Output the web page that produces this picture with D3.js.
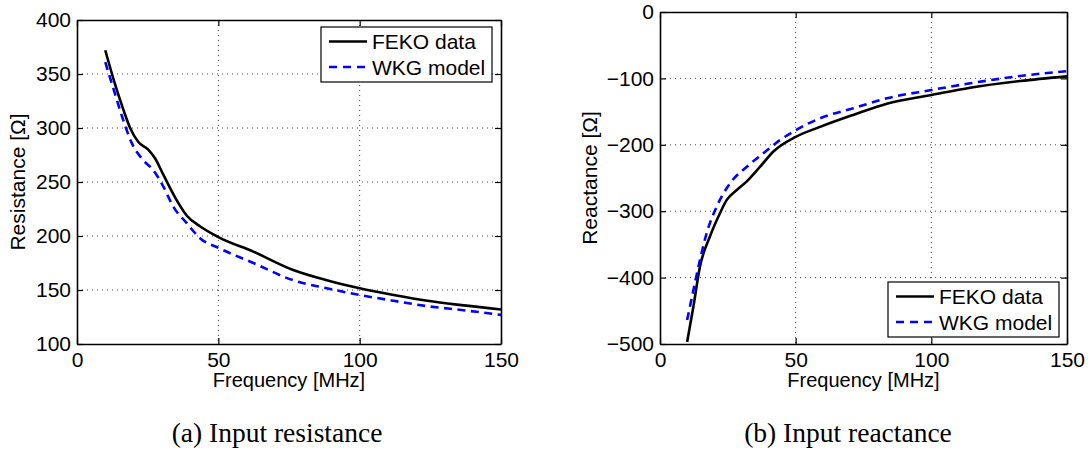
<!DOCTYPE html>
<html>
<head>
<meta charset="utf-8">
<script src="https://cdn.jsdelivr.net/npm/d3@7"></script>
<style>
  body { margin: 0; background: #fff; }
  svg text { font-family: "Liberation Sans", Arial, sans-serif; fill: #000; }
  .caption { font-family: "Liberation Serif", "Times New Roman", serif; }
</style>
</head>
<body>
<svg id="chart" width="1088" height="452"></svg>
<script>
// resistance panel
const resFekoFreq = [10, 13.4, 16.4, 18.8, 21.7, 25.2, 27.6, 30.5, 35.3, 38.8, 43.5, 50, 62.4, 76.5, 88.4, 100, 112, 124, 136, 150];
const resFeko = [372, 341, 317, 300, 287, 280, 272, 257, 233, 219, 209, 199, 185.5, 168.5, 159, 151.6, 145.4, 140, 136, 132];
const resWkgFreq = [10, 13.4, 16.4, 19.4, 23.5, 27, 30.5, 34.1, 38.8, 43.5, 50, 62.4, 76.5, 88.4, 100, 112, 124, 136, 150];
const resWkg = [361, 332, 307, 286, 270, 261, 246, 227, 212, 198, 189, 175, 159, 151.6, 145.4, 140, 135, 131.5, 127];

// reactance panel
const reaFekoFreq = [10, 12.3, 14.7, 18.4, 22.1, 24.6, 28.3, 32, 36.9, 41.8, 50, 59, 71.2, 83.6, 100, 114.3, 132.7, 150];
const reaFeko = [-497, -444, -384, -338, -303, -283, -268, -255, -233, -210, -188, -173, -155, -138, -125, -114, -104, -97];
const reaWkgFreq = [10, 12.3, 14.7, 17.2, 20.9, 25.8, 32, 38, 44.2, 50, 59, 71.2, 83.6, 100, 114.3, 132.7, 150];
const reaWkg = [-464, -419, -374, -333, -293, -258, -233, -213, -193, -178, -160, -145, -130, -117.5, -107.4, -96.4, -89];

const freqTicks = [0, 50, 100, 150];
const resTicks = [100, 150, 200, 250, 300, 350, 400];
const reaTicks = [-500, -400, -300, -200, -100, 0];
const seriesNames = ["FEKO data", "WKG model"];

const svg = d3.select("#chart");

function zip(xs, ys) {
  return xs.map(function (x, i) { return {f: x, v: ys[i]}; });
}

function drawPanel(p) {
  const x = d3.scaleLinear().domain([0, 150]).range([p.left, p.right]);
  const y = d3.scaleLinear().domain(p.yDomain).range([p.bottom, p.top]);
  const g = svg.append("g");

  // dotted grid
  g.selectAll(".gx").data(freqTicks.slice(1, -1)).enter().append("line")
    .attr("x1", d => x(d)).attr("x2", d => x(d))
    .attr("y1", p.top).attr("y2", p.bottom)
    .style("stroke", "#444").style("stroke-width", 1).style("stroke-dasharray", "1,4");
  g.selectAll(".gy").data(p.yTicks.slice(1, -1)).enter().append("line")
    .attr("y1", d => y(d)).attr("y2", d => y(d))
    .attr("x1", p.left).attr("x2", p.right)
    .style("stroke", "#444").style("stroke-width", 1).style("stroke-dasharray", "1,4");

  const line = d3.line()
    .x(d => x(d.f))
    .y(d => y(d.v))
    .curve(d3.curveMonotoneX);

  g.append("path").datum(zip(p.fekoFreq, p.feko))
    .attr("d", line)
    .style("fill", "none").style("stroke", "#000").style("stroke-width", 2.6);
  g.append("path").datum(zip(p.wkgFreq, p.wkg))
    .attr("d", line)
    .style("fill", "none").style("stroke", "#0000ff").style("stroke-width", 2.6)
    .style("stroke-dasharray", "8,5.5");

  // axes: box with inward ticks on all sides
  const bottomAx = d3.axisBottom(x).tickValues(freqTicks).tickSizeInner(-6).tickSizeOuter(0).tickPadding(8).tickFormat(d3.format("d"));
  const topAx = d3.axisTop(x).tickValues(freqTicks).tickSizeInner(-6).tickSizeOuter(0).tickFormat("");
  const fmt = d => (d < 0 ? "\u2212" + Math.abs(d) : String(d));
  const leftAx = d3.axisLeft(y).tickValues(p.yTicks).tickSizeInner(-6).tickSizeOuter(0).tickPadding(6).tickFormat(fmt);
  const rightAx = d3.axisRight(y).tickValues(p.yTicks).tickSizeInner(-6).tickSizeOuter(0).tickFormat("");

  const axes = [
    g.append("g").attr("transform", "translate(0," + p.bottom + ")").call(bottomAx),
    g.append("g").attr("transform", "translate(0," + p.top + ")").call(topAx),
    g.append("g").attr("transform", "translate(" + p.left + ",0)").call(leftAx),
    g.append("g").attr("transform", "translate(" + p.right + ",0)").call(rightAx)
  ];
  axes.forEach(function (a) {
    a.select(".domain").style("stroke", "#000").style("stroke-width", 1.6);
    a.selectAll(".tick line").style("stroke", "#000").style("stroke-width", 1.2);
    a.selectAll("text").style("font-size", "21px").style("font-family", "Liberation Sans, Arial, sans-serif");
  });
  axes[0].selectAll("text").attr("dy", "0.72em");

  // axis labels
  svg.append("text")
    .attr("x", (p.left + p.right) / 2).attr("y", 387)
    .attr("text-anchor", "middle").style("font-size", "20px")
    .text("Frequency [MHz]");
  svg.append("text")
    .attr("transform", "translate(" + p.ylabelX + "," + ((p.top + p.bottom) / 2) + ") rotate(-90)")
    .attr("text-anchor", "middle").style("font-size", "21px")
    .text(p.ylabel);

  // legend
  const lg = svg.append("g").attr("transform", "translate(" + p.legend[0] + "," + p.legend[1] + ")");
  lg.append("rect").attr("width", 171).attr("height", 55)
    .style("fill", "#fff").style("stroke", "#000").style("stroke-width", 1.2);
  seriesNames.forEach(function (name, i) {
    const yy = 14.5 + i * 25.5;
    lg.append("line").attr("x1", 8).attr("x2", 46).attr("y1", yy).attr("y2", yy)
      .style("stroke", i === 0 ? "#000" : "#0000ff").style("stroke-width", 2.6)
      .style("stroke-dasharray", i === 0 ? null : "8,6");
    lg.append("text").attr("x", 51).attr("y", yy).attr("dy", "0.36em")
      .style("font-size", "21px").text(name);
  });

  svg.append("text").attr("class", "caption")
    .attr("x", p.captionX).attr("y", 442)
    .attr("text-anchor", "middle").style("font-size", "27.5px")
    .text(p.caption);
}

drawPanel({
  left: 77, right: 501, top: 20, bottom: 344,
  yDomain: [100, 400], yTicks: resTicks,
  fekoFreq: resFekoFreq, feko: resFeko, wkgFreq: resWkgFreq, wkg: resWkg,
  ylabel: "Resistance [\u03a9]", ylabelX: 25,
  legend: [321, 27],
  caption: "(a) Input resistance", captionX: 277
});

drawPanel({
  left: 660, right: 1067, top: 12, bottom: 344,
  yDomain: [-500, 0], yTicks: reaTicks,
  fekoFreq: reaFekoFreq, feko: reaFeko, wkgFreq: reaWkgFreq, wkg: reaWkg,
  ylabel: "Reactance [\u03a9]", ylabelX: 597,
  legend: [888, 282],
  caption: "(b) Input reactance", captionX: 848
});
</script>
</body>
</html>
